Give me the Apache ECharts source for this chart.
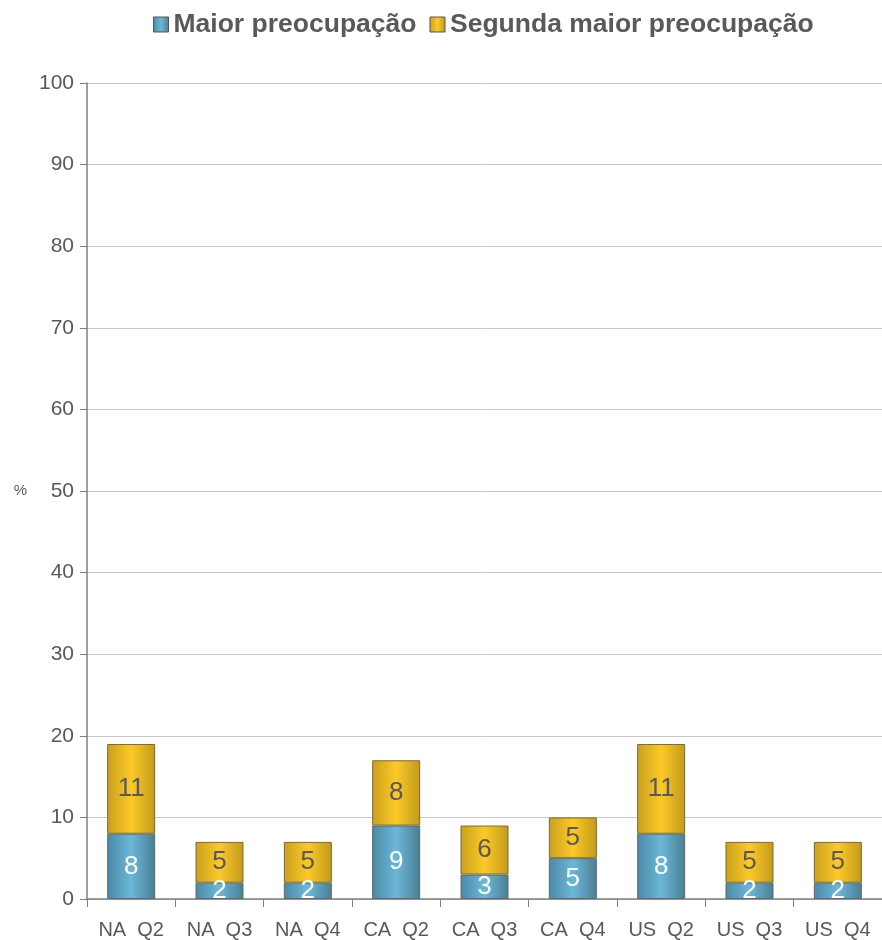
<!DOCTYPE html>
<html><head><meta charset="utf-8">
<script src="https://cdn.jsdelivr.net/npm/echarts@6/dist/echarts.min.js"></script>
<style>html,body{margin:0;padding:0;background:#fff}#c{width:882px;height:940px}</style>
</head><body><div id="c"></div>
<script>
var categories = ['NA  Q2','NA  Q3','NA  Q4','CA  Q2','CA  Q3','CA  Q4','US  Q2','US  Q3','US  Q4'];
var maior = [8,2,2,9,3,5,8,2,2];
var segunda = [11,5,5,8,6,5,11,5,5];
var seriesNames = ['Maior preocupação','Segunda maior preocupação'];
var yTicks = {min:0, max:100, interval:10};

function grad(c1,c2,c3){
  return new echarts.graphic.LinearGradient(0,0,1,0,[
    {offset:0,color:c1},{offset:0.5,color:c2},{offset:1,color:c3}]);
}
var blue = grad('#4a8aa5','#6cb7d8','#4a7f94');
var yellow = grad('#c9a01e','#fcc927','#c29a1c');
var chart = echarts.init(document.getElementById('c'));
var font = 'Liberation Sans, Arial, sans-serif';
chart.setOption({
  animation:false,
  textStyle:{fontFamily:font},
  legend:{top:6,left:148,icon:'rect',itemWidth:15,itemHeight:15,itemGap:13,
    textStyle:{fontSize:26.5,fontWeight:'bold',color:'#595959',fontFamily:font},
    data:[{name:seriesNames[0],itemStyle:{color:blue,borderColor:'#555',borderWidth:1}},
          {name:seriesNames[1],itemStyle:{color:yellow,borderColor:'#555',borderWidth:1}}]},
  grid:{left:87,top:83,width:798,bottom:41,containLabel:false},
  xAxis:{type:'category',data:categories,
    axisLine:{lineStyle:{color:'#808080',width:1.5}},
    axisTick:{show:true,length:8,lineStyle:{color:'#808080'}},
    axisLabel:{fontSize:20,color:'#595959',margin:21,fontFamily:font}},
  yAxis:{type:'value',min:yTicks.min,max:yTicks.max,interval:yTicks.interval,
    name:'%',nameLocation:'middle',nameRotate:0,nameGap:60,
    nameTextStyle:{fontSize:15,color:'#595959'},
    axisLine:{show:true,lineStyle:{color:'#808080',width:1.5}},
    axisTick:{show:true,length:7,lineStyle:{color:'#808080'}},
    axisLabel:{fontSize:21,color:'#595959',margin:13,fontFamily:font},
    splitLine:{lineStyle:{color:'#c8c8c8',width:1}}},
  series:[
    {name:seriesNames[0],type:'bar',stack:'s',data:maior,barWidth:48,
     itemStyle:{color:blue,borderColor:'#5a6a70',borderWidth:1},
     label:{show:true,position:'inside',fontSize:26,color:'#ffffff',fontFamily:font}},
    {name:seriesNames[1],type:'bar',stack:'s',data:segunda,barWidth:48,
     itemStyle:{color:yellow,borderColor:'#7a6a30',borderWidth:1},
     label:{show:true,position:'inside',fontSize:26,color:'#595959',fontFamily:font}}
  ]
});
</script></body></html>
